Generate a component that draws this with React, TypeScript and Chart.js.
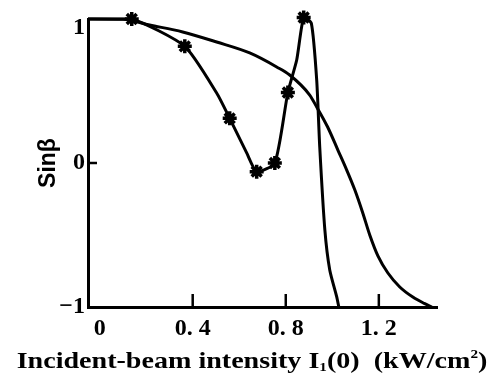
import React, { useEffect, useRef } from 'react';
import { Chart, registerables } from 'chart.js';

Chart.register(...registerables);

// Axis ticks
const xTickValues = [0, 0.4, 0.8, 1.2];
const xTickLabels = ['0', '0. 4', '0. 8', '1. 2'];
const xInnerMarks = [0.4, 0.8, 1.2];
const yTickValues = [-1, 0, 1];
const yTickLabels = ['\u22121', '0', '1'];
const yInnerMarks = [0];

// Smooth curve (no markers)
const smoothX = [-0.05, 0.1, 0.215, 0.357, 0.503, 0.645, 0.761, 0.817, 0.903, 0.933, 0.98, 1.024, 1.062, 1.097, 1.131, 1.161, 1.196, 1.239, 1.29, 1.346, 1.395, 1.428];
const smoothY = [1.0, 0.998, 0.958, 0.91, 0.84, 0.764, 0.667, 0.611, 0.472, 0.389, 0.25, 0.09, -0.049, -0.188, -0.347, -0.5, -0.645, -0.764, -0.861, -0.931, -0.975, -1.0];

// Curve with star markers (marked = 1 shows a star)
const starX = [-0.05, 0.138, 0.366, 0.503, 0.559, 0.632, 0.675, 0.753, 0.809, 0.847, 0.877, 0.91, 0.933, 0.946, 0.968, 0.989, 1.019, 1.028];
const starY = [1.0, 1.0, 0.81, 0.486, 0.31, 0.07, -0.06, 0.0, 0.49, 0.715, 1.01, 0.97, 0.576, 0.111, -0.465, -0.743, -0.93, -1.0];
const starMarked = [0, 1, 1, 0, 1, 0, 1, 1, 1, 0, 1, 0, 0, 0, 0, 0, 0, 0];

// X title pieces: main text, subscript, rest, superscript, tail
const xTitleParts = ['Incident-beam intensity I', '1', '(0)  (kW/cm', '2', ')'];
const yTitle = 'Sin\u03b2';

const decorPlugin = {
  id: 'decor',
  afterDraw(chart: any) {
    const { ctx, scales } = chart;
    const x = scales.x;
    const y = scales.y;
    ctx.save();
    ctx.strokeStyle = '#000';
    ctx.lineWidth = 2.5;
    const bottom = y.getPixelForValue(-1);
    for (const v of xInnerMarks) {
      const px = x.getPixelForValue(v);
      ctx.beginPath();
      ctx.moveTo(px, bottom);
      ctx.lineTo(px, bottom - 13);
      ctx.stroke();
    }
    const left = x.getPixelForValue(x.min);
    for (const v of yInnerMarks) {
      const py = y.getPixelForValue(v);
      ctx.beginPath();
      ctx.moveTo(left, py);
      ctx.lineTo(left + 9, py);
      ctx.stroke();
    }
    // x-axis title, drawn in pieces for sub/superscripts
    ctx.fillStyle = '#000';
    ctx.textAlign = 'left';
    ctx.textBaseline = 'alphabetic';
    const big = 'bold 24px "Liberation Serif", serif';
    const small = 'bold 13px "Liberation Serif", serif';
    const fonts = [big, small, big, small, big];
    const dy = [0, 3, 0, -10, 0];
    const widths = xTitleParts.map((t, i) => {
      ctx.font = fonts[i];
      return ctx.measureText(t).width;
    });
    const total = widths.reduce((a, b) => a + b, 0);
    const sx = 1.17;
    const cx = 252;
    const baseY = 368;
    ctx.translate(cx - (total * sx) / 2, baseY);
    ctx.scale(sx, 1);
    let pos = 0;
    xTitleParts.forEach((t, i) => {
      ctx.font = fonts[i];
      ctx.fillText(t, pos, dy[i]);
      pos += widths[i];
    });
    ctx.restore();
  },
};

export default function App() {
  const canvasRef = useRef<HTMLCanvasElement | null>(null);

  useEffect(() => {
    if (!canvasRef.current) return;
    const chart = new Chart(canvasRef.current, {
      type: 'line',
      data: {
        datasets: [
          {
            label: 'smooth',
            data: smoothX.map((v, i) => ({ x: v, y: smoothY[i] })),
            borderColor: '#000',
            borderWidth: 3,
            pointRadius: 0,
            cubicInterpolationMode: 'monotone',
            fill: false,
            clip: false as any,
          },
          {
            label: 'stars',
            data: starX.map((v, i) => ({ x: v, y: starY[i] })),
            borderColor: '#000',
            backgroundColor: '#000',
            borderWidth: 3,
            pointStyle: 'star',
            pointRadius: starMarked.map((m) => (m ? 7 : 0)),
            pointBorderWidth: 3.5,
            pointBorderColor: '#000',
            tension: 0.2,
            fill: false,
            clip: false as any,
          },
        ],
      },
      options: {
        animation: false,
        responsive: true,
        maintainAspectRatio: false,
        layout: { padding: { top: 19, right: 55, left: 0, bottom: 0 } },
        plugins: {
          legend: { display: false },
          tooltip: { enabled: false },
        },
        scales: {
          x: {
            type: 'linear',
            min: -0.05,
            max: 1.45,
            afterBuildTicks: (s: any) => {
              s.ticks = xTickValues.map((v) => ({ value: v }));
            },
            afterFit: (s: any) => {
              s.height = 67;
              s.paddingLeft = 0;
              s.paddingRight = 0;
            },
            ticks: {
              autoSkip: false,
              maxRotation: 0,
              color: '#000',
              padding: 7,
              font: { family: '"Liberation Serif", serif', size: 24, weight: 'bold' },
              callback: (v: any) => {
                const i = xTickValues.findIndex((t) => Math.abs(t - v) < 1e-9);
                return i >= 0 ? xTickLabels[i] : '';
              },
            },
            grid: { display: false, drawTicks: false },
            border: { display: true, width: 3, color: '#000' },
          },
          y: {
            type: 'linear',
            min: -1,
            max: 1,
            afterBuildTicks: (s: any) => {
              s.ticks = yTickValues.map((v) => ({ value: v }));
            },
            afterFit: (s: any) => {
              s.width = 88;
              s.paddingTop = 0;
              s.paddingBottom = 0;
            },
            ticks: {
              autoSkip: false,
              color: '#000',
              padding: 3,
              font: { family: '"Liberation Serif", serif', size: 24, weight: 'bold', lineHeight: 0.75 },
              callback: (v: any) => {
                const i = yTickValues.findIndex((t) => Math.abs(t - v) < 1e-9);
                if (i < 0) return '';
                return v === 1 ? ['', yTickLabels[i]] : yTickLabels[i];
              },
            },
            title: {
              display: true,
              text: yTitle,
              color: '#000',
              font: { family: '"Liberation Sans", Arial, sans-serif', size: 23, weight: 'bold', lineHeight: 1.2 },
              padding: { top: 35, bottom: 0 },
            },
            grid: { display: false, drawTicks: false },
            border: { display: true, width: 3, color: '#000' },
          },
        },
      },
      plugins: [decorPlugin],
    });
    return () => chart.destroy();
  }, []);

  return (
    <div style={{ position: 'fixed', left: 0, top: 0, width: 492, height: 374, background: '#fff' }}>
      <canvas ref={canvasRef} />
    </div>
  );
}
